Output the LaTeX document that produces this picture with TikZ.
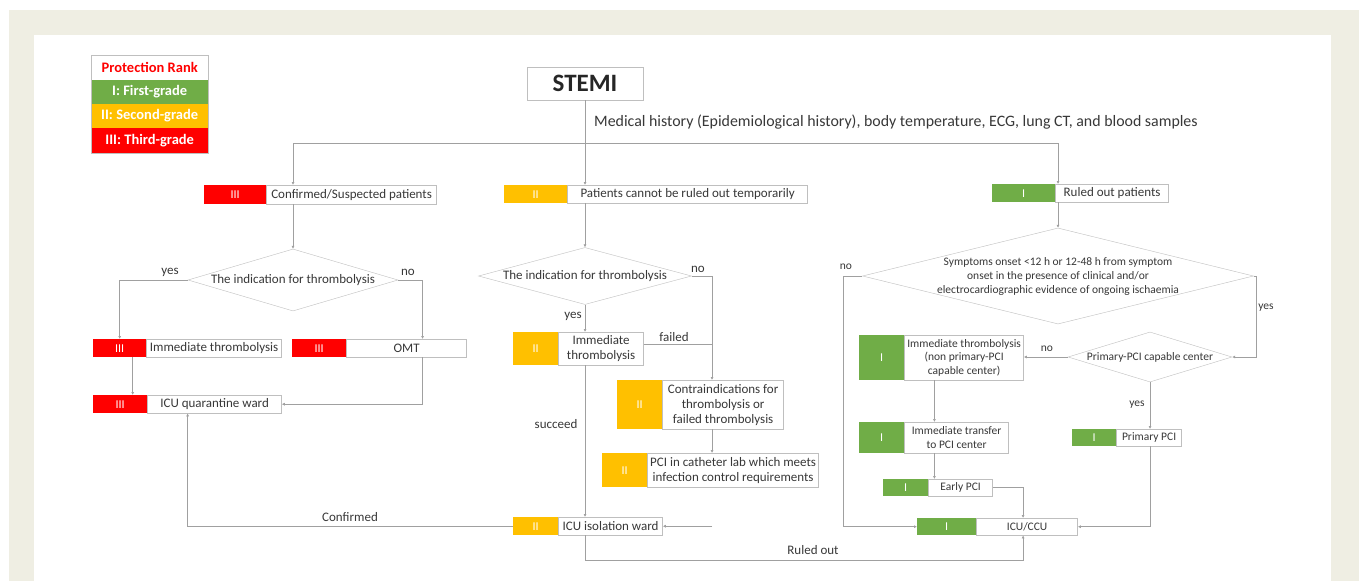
\documentclass[tikz,border=0pt]{standalone}
\usepackage{fontspec}
\setmainfont{Carlito}
\usepackage{xcolor}
\usetikzlibrary{shapes.geometric, arrows.meta, positioning, calc}
\definecolor{rkgreen}{RGB}{112, 173, 71}
\definecolor{rkorange}{RGB}{255, 192, 0}
\definecolor{rkred}{RGB}{255, 0, 0}
\definecolor{textdark}{RGB}{56, 56, 56}
\definecolor{boxline}{RGB}{191, 191, 191}
\definecolor{flowline}{RGB}{160, 160, 160}
\definecolor{pagebg}{RGB}{239, 238, 227}

\tikzset{
    rank/.style={anchor=north west, inner sep=0pt, text=white, font=\fontsize{12}{14}\selectfont},
    rankI/.style={rank, fill=rkgreen},
    rankII/.style={rank, fill=rkorange},
    rankIII/.style={rank, fill=rkred},
    txtbox/.style={draw=boxline, fill=white, text=textdark, align=center, inner sep=0pt, font=\fontsize{13}{15}\selectfont},
    decision/.style={diamond, draw=boxline, fill=white, inner sep=0pt},
    lbl/.style={text=textdark, align=center, inner sep=0pt, font=\fontsize{13}{15}\selectfont},
    smalltext/.style={font=\fontsize{11.5}{13.5}\selectfont},
    legrow/.style={anchor=north west, minimum width=117pt, inner sep=0pt, text=white, font=\bfseries\fontsize{14.5}{16}\selectfont},
    link/.style={draw=flowline, line width=0.8pt},
    flow/.style={link, -{Latex[length=3pt,width=3pt]}}
}

\begin{document}
\begin{tikzpicture}[x=1pt, y=-1pt]
\useasboundingbox (0,0) rectangle (1359,581);
\fill[pagebg] (9,10) rectangle (1359,581);
\fill[white] (34,35) rectangle (1331,581);

\node[legrow, fill=white, text=rkred, minimum height=24pt] (leg) at (91,55) {Protection Rank};
\node[legrow, fill=rkgreen, below=0pt of leg, minimum height=24pt] (leg-I) {I: First-grade};
\node[legrow, fill=rkorange, below=0pt of leg-I, minimum height=24pt] (leg-II) {II: Second-grade};
\node[legrow, fill=rkred, below=0pt of leg-II, minimum height=25pt] (leg-III) {III: Third-grade};
\draw[boxline] (leg.north west) rectangle (leg-III.south east);

\node[draw=boxline, fill=white, minimum width=116pt, minimum height=33pt, inner sep=0pt, text=black!85, font=\bfseries\fontsize{25}{27}\selectfont] (stemi) at (585,83.5) {STEMI};
\node[lbl, anchor=west, font=\fontsize{15.9}{18}\selectfont] (exams) at (594,122) {Medical history (Epidemiological history), body temperature, ECG, lung CT, and blood samples};
\coordinate (hub) at (585,143);

\node[rankIII, minimum width=62pt, minimum height=19pt] (cs-rk) at (204,185) {III};
\node[txtbox, right=0pt of cs-rk, minimum width=170pt, minimum height=19pt] (cs) {Confirmed/Suspected patients};
\node[decision, minimum width=210pt, minimum height=62pt] (d1) at (293,280) {};
\node[lbl] (d1-txt) at (d1) {The indication for thrombolysis};
\node[rankIII, minimum width=53pt, minimum height=18pt] (it3-rk) at (93,339) {III};
\node[txtbox, right=0pt of it3-rk, minimum width=135pt, minimum height=18pt] (it3) {Immediate thrombolysis};
\node[rankIII, minimum width=54pt, minimum height=18pt] (omt-rk) at (292,339) {III};
\node[txtbox, right=0pt of omt-rk, minimum width=120pt, minimum height=18pt] (omt) {OMT};
\node[rankIII, minimum width=54pt, minimum height=18pt] (icuq-rk) at (93,395) {III};
\node[txtbox, right=0pt of icuq-rk, minimum width=134pt, minimum height=18pt] (icuq) {ICU quarantine ward};

\node[rankII, minimum width=63pt, minimum height=18pt] (pco-rk) at (504,185) {II};
\node[txtbox, right=0pt of pco-rk, minimum width=240pt, minimum height=18pt] (pco) {Patients cannot be ruled out temporarily};
\node[decision, minimum width=213pt, minimum height=57pt] (d2) at (585,276) {};
\node[lbl] (d2-txt) at (d2) {The indication for thrombolysis};
\node[rankII, minimum width=45pt, minimum height=33pt] (it2-rk) at (513,332) {II};
\node[txtbox, right=0pt of it2-rk, minimum width=85pt, minimum height=33pt] (it2) {Immediate\\thrombolysis};
\node[rankII, minimum width=45pt, minimum height=49pt] (ci-rk) at (617,380) {II};
\node[txtbox, right=0pt of ci-rk, minimum width=121pt, minimum height=49pt] (ci) {Contraindications for\\thrombolysis or\\failed thrombolysis};
\node[rankII, minimum width=45pt, minimum height=34pt] (pci-rk) at (602,453) {II};
\node[txtbox, right=0pt of pci-rk, minimum width=171pt, minimum height=34pt] (pci) {PCI in catheter lab which meets\\infection control requirements};
\node[rankII, minimum width=45pt, minimum height=18pt] (icui-rk) at (513,517) {II};
\node[txtbox, right=0pt of icui-rk, minimum width=104pt, minimum height=18pt] (icui) {ICU isolation ward};
\coordinate (d2no) at (712,276);
\coordinate (ro) at (585,560);

\node[rankI, minimum width=63pt, minimum height=18pt] (rop-rk) at (992,184) {I};
\node[txtbox, right=0pt of rop-rk, minimum width=113pt, minimum height=18pt] (rop) {Ruled out patients};
\node[decision, minimum width=391pt, minimum height=96pt] (d3) at (1058,276) {};
\node[lbl, font=\fontsize{11.5}{14}\selectfont] (d3-txt) at (d3) {Symptoms onset <12 h or 12-48 h from symptom\\onset in the presence of clinical and/or\\electrocardiographic evidence of ongoing ischaemia};
\node[decision, minimum width=164pt, minimum height=50pt] (d4) at (1150,357) {};
\node[lbl, smalltext] (d4-txt) at (d4) {Primary-PCI capable center};
\node[rankI, minimum width=45pt, minimum height=45pt] (it1-rk) at (859,335) {I};
\node[txtbox, smalltext, right=0pt of it1-rk, minimum width=119pt, minimum height=45pt] (it1) {Immediate thrombolysis\\(non primary-PCI\\capable center)};
\node[rankI, minimum width=45pt, minimum height=31pt] (itr-rk) at (859,422) {I};
\node[txtbox, smalltext, right=0pt of itr-rk, minimum width=104pt, minimum height=31pt] (itr) {Immediate transfer\\to PCI center};
\node[rankI, minimum width=45pt, minimum height=17pt] (epci-rk) at (883,479) {I};
\node[txtbox, smalltext, right=0pt of epci-rk, minimum width=64pt, minimum height=17pt] (epci) {Early PCI};
\node[rankI, minimum width=44pt, minimum height=17pt] (ppci-rk) at (1072,429) {I};
\node[txtbox, smalltext, right=0pt of ppci-rk, minimum width=65pt, minimum height=17pt] (ppci) {Primary PCI};
\node[rankI, minimum width=59pt, minimum height=17pt] (ccu-rk) at (917,518) {I};
\node[txtbox, smalltext, right=0pt of ccu-rk, minimum width=101pt, minimum height=17pt] (ccu) {ICU/CCU};
\coordinate (d3no) at (843,276);
\coordinate (d3yes) at (1256,276);

\draw[link] (stemi.south) -- (hub);
\draw[flow] (hub) -| (d1.north |- cs.north);
\draw[flow] (hub) -- (hub |- pco.north);
\draw[flow] (hub) -| (d3.north |- rop.north);

\draw[flow] (d1.north |- cs.south) -- (d1.north);
\draw[flow] (d1.west) -| (it3-rk.north);
\draw[flow] (d1.east) -| ([xshift=16pt]omt.north);
\draw[flow] ([xshift=13pt]it3-rk.south) -- ([xshift=13pt]it3-rk.south |- icuq.north);
\draw[flow] ([xshift=16pt]omt.south) |- (icuq.east);
\draw[flow] (icui-rk.west) -| ([xshift=-27pt]icuq.south);
\node[lbl] (yes1) at (170,272) {yes};
\node[lbl] (no1) at (408,272) {no};
\node[lbl] (conf) at (350,517) {Confirmed};

\draw[flow] (hub |- pco.south) -- (d2.north);
\draw[flow] (d2.south) -- (d2.south |- it2.north);
\draw[flow] (d2.east) -- (d2no) -- (d2no |- ci.north);
\draw[link] ([yshift=4pt]it2.east) -- ([yshift=4pt]it2.east -| d2no);
\draw[flow] (d2.south |- it2.south) -- (d2.south |- icui.north);
\draw[flow] (d2no |- ci.south) -- (d2no |- pci.north);
\draw[flow] (d2no |- icui.east) -- (icui.east);
\draw[flow] (d2.south |- icui.south) -- (ro) -| ([xshift=-4pt]ccu.south);
\node[lbl] (yes2) at (573,316) {yes};
\node[lbl] (no2) at (698,269) {no};
\node[lbl] (fail) at (674,337) {failed};
\node[lbl] (succ) at (556,424) {succeed};
\node[lbl] (rout) at (813,550) {Ruled out};

\draw[flow] (d3.north |- rop.south) -- (d3.north);
\draw[flow] (d3.west) -- (d3no) |- (ccu-rk.west);
\draw[flow] (d3.east) -- (d3yes) |- (d4.east);
\draw[flow] (d4.west) -- (d4.west -| it1.east);
\draw[flow] (d4.south) -- (d4.south |- ppci.north);
\draw[flow] ([xshift=30pt]it1-rk.south east) -- ([xshift=30pt]it1-rk.south east |- itr.north);
\draw[flow] ([xshift=30pt]itr-rk.south east) -- ([xshift=30pt]itr-rk.south east |- epci.north);
\draw[flow] (epci.east) -| ([xshift=-4pt]ccu.north);
\draw[flow] (ppci.south -| d4.south) |- (ccu.east);
\node[lbl, smalltext] (no3) at (846,267) {no};
\node[lbl, smalltext] (yes3) at (1266,308) {yes};
\node[lbl, smalltext] (no4) at (1047,349) {no};
\node[lbl, smalltext] (yes4) at (1137,405) {yes};
\end{tikzpicture}
\end{document}
